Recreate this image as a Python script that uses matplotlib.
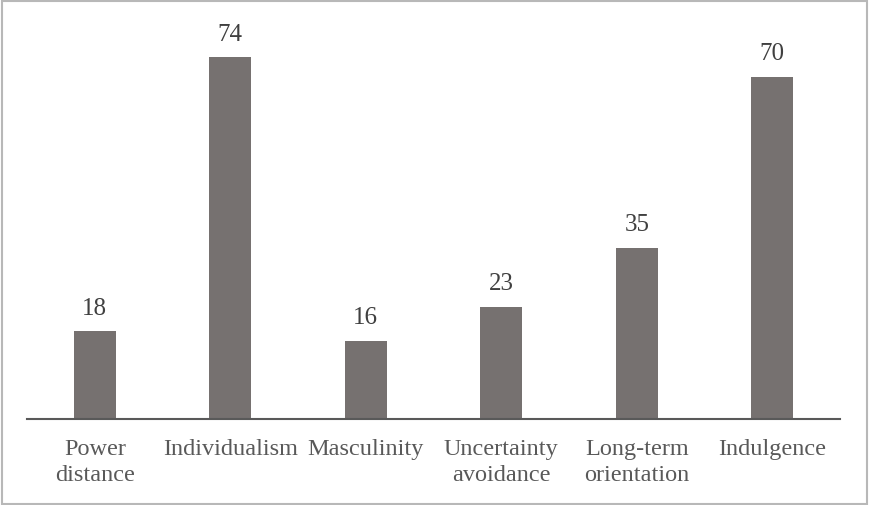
import matplotlib.pyplot as plt
from matplotlib.patches import Rectangle

# Data
dimensions = ["Power\ndistance", "Individualism", "Masculinity",
              "Uncertainty\navoidance", "Long-term\norientation", "Indulgence"]
scores = [18, 74, 16, 23, 35, 70]

plt.rcParams['font.family'] = ['Liberation Serif', 'DejaVu Serif']

fig = plt.figure(figsize=(8.69, 5.06), dpi=100)
ax = fig.add_axes([27/869, 86/506, 813/869, 391/506])

x = range(len(scores))
bars = ax.bar(x, scores, width=0.31, color='#767170')

for xi, v in zip(x, scores):
    ax.annotate(str(v), (xi, v), xytext=(0, 9), textcoords='offset points',
                ha='center', va='bottom', fontsize=18, color='#404040')

ax.set_xlim(-0.5, 5.5)
ax.set_ylim(0, 80)
ax.set_xticks(list(x))
ax.set_xticklabels(dimensions, fontsize=17.5, color='#595959', linespacing=1.3)
ax.tick_params(axis='x', length=0, pad=14)
ax.set_yticks([])
for s in ['top', 'right', 'left']:
    ax.spines[s].set_visible(False)
ax.spines['bottom'].set_color('#595959')
ax.spines['bottom'].set_linewidth(1.5)

# figure border
fig.patches.append(Rectangle((0.002, 0.002), 0.996, 0.995, transform=fig.transFigure,
                             fill=False, edgecolor='#b8b8b8', linewidth=1.5))

fig.savefig("out.png", dpi=100)
